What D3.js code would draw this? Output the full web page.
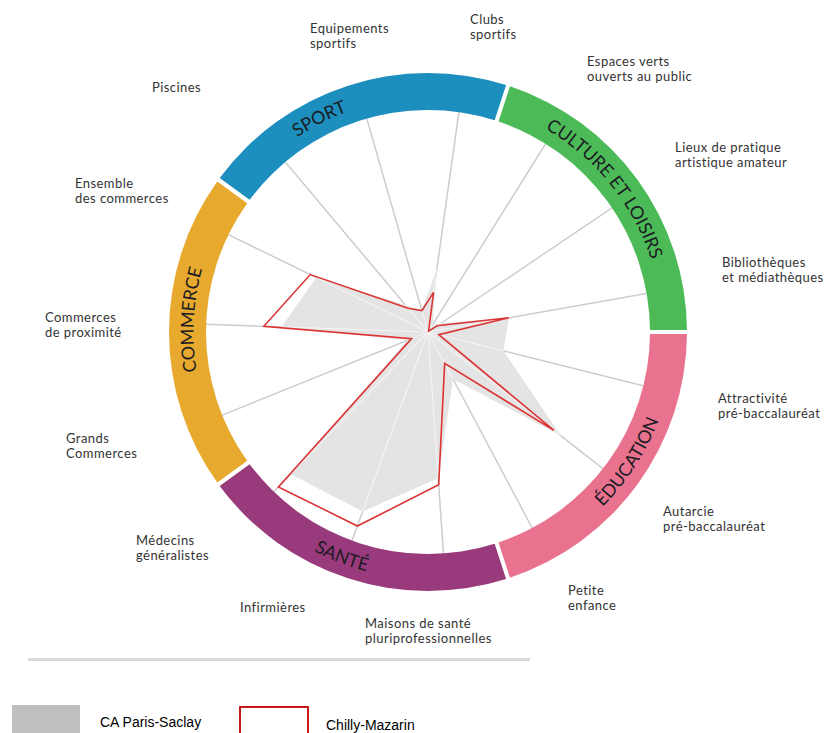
<!DOCTYPE html>
<html>
<head>
<meta charset="utf-8">
<script src="https://cdn.jsdelivr.net/npm/d3@7"></script>
<style>
  html, body { margin: 0; padding: 0; background: #ffffff; }
  svg { display: block; }
  .lbl { font-family: Lato, "Open Sans", sans-serif; font-size: 13px; letter-spacing: 0.45px; fill: #333333; }
  .cat { font-family: Lato, "Open Sans", sans-serif; font-size: 18px; fill: #1c1c24; }
  .leg { font-family: "Liberation Sans", Arial, sans-serif; font-size: 14px; fill: #000; }
</style>
</head>
<body>
<script>
// ---------- DATA ----------
// Axes, clockwise, starting with the first axis of "CULTURE ET LOISIRS"
const axes = [
  "Espaces verts ouverts au public",
  "Lieux de pratique artistique amateur",
  "Bibliothèques et médiathèques",
  "Attractivité pré-baccalauréat",
  "Autarcie pré-baccalauréat",
  "Petite enfance",
  "Maisons de santé pluriprofessionnelles",
  "Infirmières",
  "Médecins généralistes",
  "Grands Commerces",
  "Commerces de proximité",
  "Ensemble des commerces",
  "Piscines",
  "Equipements sportifs",
  "Clubs sportifs"
];
const axisLabelLines = [
  ["Espaces verts", "ouverts au public"],
  ["Lieux de pratique", "artistique amateur"],
  ["Bibliothèques", "et médiathèques"],
  ["Attractivité", "pré-baccalauréat"],
  ["Autarcie", "pré-baccalauréat"],
  ["Petite", "enfance"],
  ["Maisons de santé", "pluriprofessionnelles"],
  ["Infirmières"],
  ["Médecins", "généralistes"],
  ["Grands", "Commerces"],
  ["Commerces", "de proximité"],
  ["Ensemble", "des commerces"],
  ["Piscines"],
  ["Equipements", "sportifs"],
  ["Clubs", "sportifs"]
];
const categories = ["CULTURE ET LOISIRS", "ÉDUCATION", "SANTÉ", "COMMERCE", "SPORT"];
const categoryColors = ["#4cbb57", "#e9728f", "#983a7b", "#e8aa2e", "#1c8fbe"];
// Index values (0-100)
const parisSaclay = [4, 7, 37, 35, 76, 24, 66, 86, 89, 10, 66, 56, 16, 10, 29];
const chillyMazarin = [0.5, 5, 37, 5, 72, 16, 69, 93, 97, 8, 74, 59, 14, 10, 18];
const seriesNames = ["CA Paris-Saclay", "Chilly-Mazarin"];

// ---------- LAYOUT ----------
const W = 833, H = 733;
const cx = 428, cy = 332;
const rInner = 222, rOuter = 259;
const ringStartDeg = 18;          // start of first category segment
const firstAxisOffsetDeg = 14;    // first axis relative to ring start
// label placement (left x, vertical centre of the label block)
const labelPos = [
  [587, 69], [675, 155], [722, 270], [718, 406], [663, 519], [568, 598],
  [365, 631], [240, 607], [136, 548], [66, 446], [45, 325], [75, 191],
  [152, 87], [310, 36], [470, 27]
];
const lineGap = 15.7;
const catLabelAngle = [51, 123, 201, 273, 333];
const catLabelCW = [true, false, false, true, true];

const rad = d => d * Math.PI / 180;
const step = 360 / axes.length;
const angleDeg = i => ringStartDeg + firstAxisOffsetDeg + step * i;

const r = d3.scaleLinear().domain([0, 100]).range([0, rInner]);

const svg = d3.select("body").append("svg").attr("width", W).attr("height", H);
const defs = svg.append("defs");
const g = svg.append("g").attr("transform", `translate(${cx},${cy})`);

// spokes
g.append("g").selectAll("line").data(axes).join("line")
  .attr("x1", 0).attr("y1", 0)
  .attr("x2", (d, i) => rInner * Math.sin(rad(angleDeg(i))))
  .attr("y2", (d, i) => -rInner * Math.cos(rad(angleDeg(i))))
  .attr("stroke", "#cdcdcd").attr("stroke-width", 1.5);

// series polygons
const radial = d3.lineRadial()
  .angle((d, i) => rad(angleDeg(i)))
  .radius(d => r(d))
  .curve(d3.curveLinearClosed);

const greyPath = radial(parisSaclay);
g.append("path").attr("d", greyPath).attr("fill", "#e4e4e4").attr("stroke", "none");

// lighter spokes visible through grey area
defs.append("clipPath").attr("id", "greyclip")
  .append("path").attr("d", greyPath);
g.append("g").attr("clip-path", "url(#greyclip)").selectAll("line").data(axes).join("line")
  .attr("x1", 0).attr("y1", 0)
  .attr("x2", (d, i) => rInner * Math.sin(rad(angleDeg(i))))
  .attr("y2", (d, i) => -rInner * Math.cos(rad(angleDeg(i))))
  .attr("stroke", "#f3f3f3").attr("stroke-width", 1.2);

g.append("path").attr("d", radial(chillyMazarin))
  .attr("fill", "none").attr("stroke", "#dc3333").attr("stroke-width", 1.6)
  .attr("stroke-linejoin", "miter");

// ring
const segSpan = 360 / categories.length;
const arc = d3.arc().innerRadius(rInner).outerRadius(rOuter).padAngle(0.012);
g.append("g").selectAll("path").data(categories).join("path")
  .attr("d", (d, i) => arc({
    startAngle: rad(ringStartDeg + segSpan * i),
    endAngle: rad(ringStartDeg + segSpan * (i + 1))
  }))
  .attr("fill", (d, i) => categoryColors[i]);

// category labels along the ring
const rMid = (rInner + rOuter) / 2;
categories.forEach((c, i) => {
  const a = catLabelAngle[i];
  const cw = catLabelCW[i];
  const rr = cw ? rMid - 6 : rMid + 6.5;
  const s = 60;
  const p = deg => [rr * Math.sin(rad(deg)), -rr * Math.cos(rad(deg))];
  const [a0, a1] = cw ? [a - s, a + s] : [a + s, a - s];
  const p0 = p(a0), p1 = p(a1);
  defs.append("path").attr("id", "cp" + i)
    .attr("d", `M${p0[0]},${p0[1]} A${rr},${rr} 0 0 ${cw ? 1 : 0} ${p1[0]},${p1[1]}`);
  g.append("text").attr("class", "cat")
    .append("textPath").attr("href", "#cp" + i)
    .attr("startOffset", "50%").attr("text-anchor", "middle")
    .text(c);
});

// axis labels
const lab = svg.append("g");
axisLabelLines.forEach((lines, i) => {
  const [x, yc] = labelPos[i];
  const n = lines.length;
  const t = lab.append("text").attr("class", "lbl");
  lines.forEach((ln, j) => {
    const centre = yc + (j - (n - 1) / 2) * lineGap;
    t.append("tspan").attr("x", x).attr("y", centre + 4.6).text(ln);
  });
});

// separator line
svg.append("rect").attr("x", 28).attr("y", 658).attr("width", 502).attr("height", 3)
  .attr("fill", "#dadada");

// legend
svg.append("rect").attr("x", 12).attr("y", 705).attr("width", 68).attr("height", 30)
  .attr("fill", "#bfbfbf");
svg.append("text").attr("class", "leg").attr("x", 100).attr("y", 727).text(seriesNames[0]);
svg.append("rect").attr("x", 240).attr("y", 707).attr("width", 68).attr("height", 30)
  .attr("fill", "none").attr("stroke", "#c00000").attr("stroke-width", 1.8);
svg.append("text").attr("class", "leg").attr("x", 326).attr("y", 730).text(seriesNames[1]);
</script>
</body>
</html>
